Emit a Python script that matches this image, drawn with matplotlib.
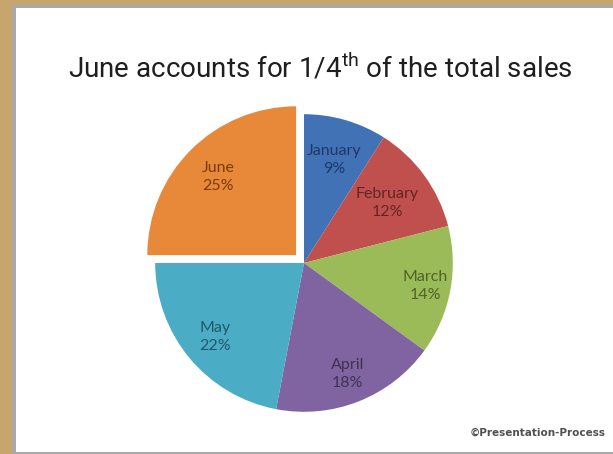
import matplotlib
matplotlib.use("Agg")
import numpy as np
import matplotlib.pyplot as plt
from matplotlib.patches import Rectangle

# monthly share of total sales (percent)
months = ["January", "February", "March", "April", "May", "June"]
shares = [9, 12, 14, 18, 22, 25]

slice_colors = ["#4172b6", "#c0504d", "#9bbb59", "#8064a2", "#4bacc6", "#e8893a"]
label_colors = ["#1f3864", "#632523", "#4f6228", "#3f3151", "#215968", "#7a3a06"]
label_radius = [0.72, 0.69, 0.83, 0.80, 0.78, 0.74]
explode = [0, 0, 0, 0, 0, 0.075]

TITLE_FONT = "Roboto"
plt.rcParams["mathtext.fontset"] = "custom"
plt.rcParams["mathtext.rm"] = TITLE_FONT

W, H = 613, 454
fig = plt.figure(figsize=(W / 100, H / 100), dpi=100)
fig.patch.set_facecolor("#c6a66c")

# white card with a grey rim on the tan background
fig.patches.append(Rectangle((12 / W, 0), 1, 1 - 5 / H, transform=fig.transFigure,
                             facecolor="#a9a9a9", edgecolor="none", zorder=-2))
fig.patches.append(Rectangle((16 / W, 2 / H), 1, 1 - 10 / H, transform=fig.transFigure,
                             facecolor="white", edgecolor="none", zorder=-1))

fig.text(320 / W, 1 - 68 / H, r"June accounts for 1/4$^{\rm th}$ of the total sales",
         ha="center", va="center", fontsize=20, color="#1e1e1e", family=TITLE_FONT)

# pie axes: radius 1 == 155 px, centred at (304, 263) px
R = 155
half = 1.2 * R
cx, cy = 304, 263
ax = fig.add_axes([(cx - half) / W, (H - cy - half) / H, 2 * half / W, 2 * half / H])
ax.set_xlim(-1.2, 1.2)
ax.set_ylim(-1.2, 1.2)
ax.axis("off")

wedges, texts = ax.pie(shares, colors=slice_colors, startangle=90, counterclock=False,
                       explode=explode, radius=1,
                       wedgeprops=dict(linewidth=0))

# label every slice with month and percentage
for w, name, val, col, rd, ex in zip(wedges, months, shares, label_colors, label_radius, explode):
    mid = np.deg2rad((w.theta1 + w.theta2) / 2)
    r = rd + ex
    ax.text(r * np.cos(mid), r * np.sin(mid), f"{name}\n{val}%",
            ha="center", va="center", fontsize=11.5, color=col,
            family="Lato", linespacing=1.35)

fig.text(606 / W, 1 - 433 / H, "©Presentation-Process", ha="right", va="center",
         fontsize=7.5, color="#505050", family="DejaVu Sans", weight="bold")

fig.savefig("out.png", dpi=100, facecolor=fig.get_facecolor())
